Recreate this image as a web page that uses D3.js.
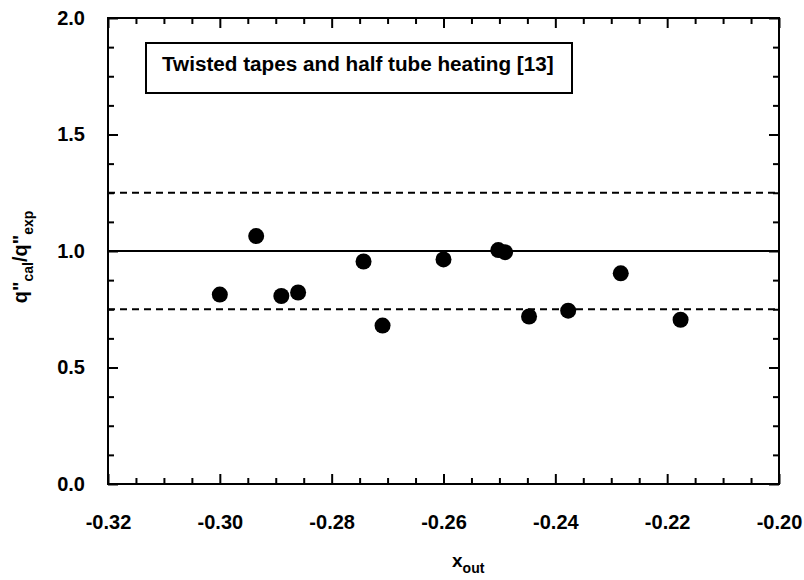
<!DOCTYPE html>
<html>
<head>
<meta charset="utf-8">
<script src="https://cdn.jsdelivr.net/npm/d3@7"></script>
<style>
    body { margin: 0; background: #fff; }
    text { font-family: "Liberation Sans", Arial, sans-serif; font-weight: bold; fill: #000; }
</style>
</head>
<body>
<svg id="chart" width="804" height="580"></svg>
<script>
// x_out and q"cal/q"exp
var xOut = [-0.300, -0.2935, -0.289, -0.286, -0.2743, -0.2709, -0.260, -0.2502, -0.249, -0.2447, -0.2377, -0.2283, -0.2176]
var ratio = [0.813, 1.064, 0.807, 0.822, 0.955, 0.680, 0.964, 1.004, 0.995, 0.719, 0.744, 0.904, 0.705]

var xTicks = [-0.32, -0.30, -0.28, -0.26, -0.24, -0.22, -0.20]
var yTicks = [0.0, 0.5, 1.0, 1.5, 2.0]
var refLines = [1.0]
var bandLines = [0.75, 1.25]
var legendText = "Twisted tapes and half tube heating [13]"

var width = 804, height = 580
var margin = {left: 108, right: 25, top: 18, bottom: 96}

var svg = d3.select("#chart")

var x = d3.scaleLinear()
    .domain([-0.32, -0.20])
    .range([margin.left, width - margin.right])
var y = d3.scaleLinear()
    .domain([0, 2])
    .range([height - margin.bottom, margin.top])

var xMinor = d3.range(0, 25).map(i => -0.32 + i * 0.005).filter(v => Math.round(v * 1000) % 20 != 0)
var yMinor = d3.range(0, 17).map(i => i * 0.125).filter(v => Math.round(v * 1000) % 500 != 0)

// plain hyphen instead of d3's unicode minus
var fmtX = d => d3.format(".2f")(d).replace("\u2212", "-")

function styleAxis(g) {
    g.select(".domain").remove()
    g.selectAll("line").attr("stroke", "#000").attr("stroke-width", 2)
    g.selectAll("text").attr("font-size", 20)
}

// bottom
svg.append("g")
    .attr("transform", "translate(0," + y(0) + ")")
    .call(d3.axisBottom(x).tickValues(xTicks).tickSize(-10).tickPadding(31).tickFormat(fmtX))
    .call(styleAxis)
svg.append("g")
    .attr("transform", "translate(0," + y(0) + ")")
    .call(d3.axisBottom(x).tickValues(xMinor).tickSize(-6).tickFormat(""))
    .call(styleAxis)
// top
svg.append("g")
    .attr("transform", "translate(0," + y(2) + ")")
    .call(d3.axisTop(x).tickValues(xTicks).tickSize(-10).tickFormat(""))
    .call(styleAxis)
svg.append("g")
    .attr("transform", "translate(0," + y(2) + ")")
    .call(d3.axisTop(x).tickValues(xMinor).tickSize(-6).tickFormat(""))
    .call(styleAxis)
// left
svg.append("g")
    .attr("transform", "translate(" + x(-0.32) + ",0)")
    .call(d3.axisLeft(y).tickValues(yTicks).tickSize(-10).tickPadding(23).tickFormat(d3.format(".1f")))
    .call(styleAxis)
svg.append("g")
    .attr("transform", "translate(" + x(-0.32) + ",0)")
    .call(d3.axisLeft(y).tickValues(yMinor).tickSize(-6).tickFormat(""))
    .call(styleAxis)
// right
svg.append("g")
    .attr("transform", "translate(" + x(-0.20) + ",0)")
    .call(d3.axisRight(y).tickValues(yTicks).tickSize(-10).tickFormat(""))
    .call(styleAxis)
svg.append("g")
    .attr("transform", "translate(" + x(-0.20) + ",0)")
    .call(d3.axisRight(y).tickValues(yMinor).tickSize(-6).tickFormat(""))
    .call(styleAxis)

// frame
svg.append("rect")
    .attr("x", x(-0.32))
    .attr("y", y(2))
    .attr("width", x(-0.20) - x(-0.32))
    .attr("height", y(0) - y(2))
    .attr("fill", "none")
    .attr("stroke", "#000")
    .attr("stroke-width", 2)

svg.selectAll(".ref")
    .data(refLines)
    .enter()
    .append("line")
        .attr("x1", x(-0.32))
        .attr("x2", x(-0.20))
        .attr("y1", d => y(d))
        .attr("y2", d => y(d))
        .attr("stroke", "#000")
        .attr("stroke-width", 2)

svg.selectAll(".band")
    .data(bandLines)
    .enter()
    .append("line")
        .attr("x1", x(-0.32))
        .attr("x2", x(-0.20))
        .attr("y1", d => y(d))
        .attr("y2", d => y(d))
        .attr("stroke", "#000")
        .attr("stroke-width", 1.8)
        .attr("stroke-dasharray", "7,5")

svg.selectAll("circle")
    .data(xOut)
    .enter()
    .append("circle")
        .attr("cx", d => x(d))
        .attr("cy", (d, i) => y(ratio[i]))
        .attr("r", 8)
        .attr("fill", "#000")

// legend box
var legend = svg.append("g")
legend.append("rect")
    .attr("x", 146)
    .attr("y", 43)
    .attr("width", 426)
    .attr("height", 50)
    .attr("fill", "#fff")
    .attr("stroke", "#000")
    .attr("stroke-width", 2)
legend.append("text")
    .attr("x", 162)
    .attr("y", 71)
    .attr("font-size", 20.7)
    .text(legendText)

// axis titles
var xt = svg.append("text")
    .attr("x", 452)
    .attr("y", 567)
    .attr("font-size", 19)
xt.append("tspan").text("x")
xt.append("tspan").attr("dy", 6).attr("font-size", 14).text("out")

var yt = svg.append("text")
    .attr("transform", "translate(27,257) rotate(-90)")
    .attr("text-anchor", "middle")
    .attr("font-size", 20)
yt.append("tspan").text("q\"")
yt.append("tspan").attr("dy", 6).attr("font-size", 14).text("cal")
yt.append("tspan").attr("dy", -6).text("/q\"")
yt.append("tspan").attr("dy", 6).attr("font-size", 14).text("exp")
</script>
</body>
</html>
